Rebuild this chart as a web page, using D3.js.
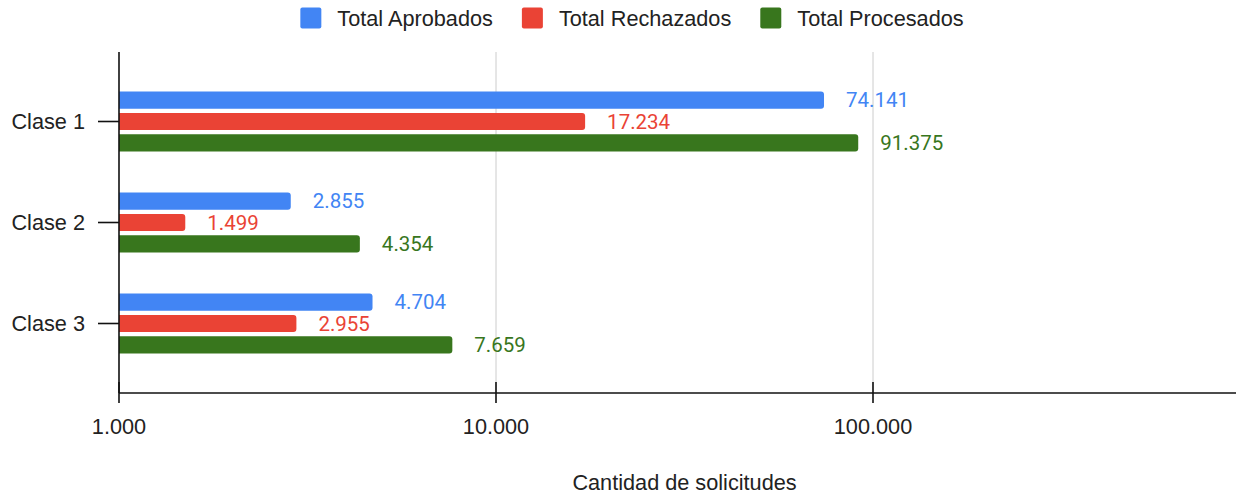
<!DOCTYPE html>
<html>
<head>
<meta charset="utf-8">
<script src="https://cdn.jsdelivr.net/npm/d3@7"></script>
<style>
  html, body { margin: 0; padding: 0; background: #fff; }
  svg { display: block; }
  text { font-family: "Liberation Sans", Arial, sans-serif; }
</style>
</head>
<body>
<svg id="chart" width="1236" height="498"></svg>
<script>
// Solicitudes por clase (escala logarítmica)
const categories = ["Clase 1", "Clase 2", "Clase 3"];
const seriesNames = ["Total Aprobados", "Total Rechazados", "Total Procesados"];
const aprobados  = [74141, 2855, 4704];
const rechazados = [17234, 1499, 2955];
const procesados = [91375, 4354, 7659];
const xTicks = [1000, 10000, 100000];
const axisTitle = "Cantidad de solicitudes";

const seriesValues = [aprobados, rechazados, procesados];
const colors = ["#4285F4", "#EA4335", "#38761D"];

const svg = d3.select("#chart");
const W = 1236, H = 498;
const textSize = "21.7px";

const plotLeft = 119, plotRight = 1250, plotTop = 52, plotBottom = 393;

const x = d3.scaleLog().domain([1000, 1000000]).range([plotLeft, plotRight]);
const y = d3.scaleBand().domain(categories).range([71, 374]).padding(0);
const ySub = d3.scaleBand().domain(seriesNames).range([-30, 30]).paddingInner(0.2);

const fmt = v => d3.format(",")(v).replace(/,/g, ".");

// Vertical grid lines
svg.append("g").selectAll("line")
  .data(xTicks.filter(t => t !== 1000))
  .join("line")
  .attr("x1", d => x(d)).attr("x2", d => x(d))
  .attr("y1", plotTop).attr("y2", plotBottom)
  .attr("stroke", "#cccccc").attr("stroke-width", 1);

// Bars with rounded right ends
function barPath(x0, x1, y0, h, r) {
  r = Math.min(r, (x1 - x0), h / 2);
  return `M${x0},${y0}H${x1 - r}Q${x1},${y0} ${x1},${y0 + r}V${y0 + h - r}Q${x1},${y0 + h} ${x1 - r},${y0 + h}H${x0}Z`;
}

const rows = [];
categories.forEach((c, i) => {
  seriesNames.forEach((s, j) => {
    rows.push({ cat: c, series: s, value: seriesValues[j][i], color: colors[j] });
  });
});

svg.append("g").selectAll("path")
  .data(rows)
  .join("path")
  .attr("d", d => barPath(x(1000), x(d.value), y(d.cat) + y.bandwidth() / 2 + ySub(d.series), ySub.bandwidth(), 3))
  .attr("fill", d => d.color);

// Value labels
svg.append("g").selectAll("text")
  .data(rows)
  .join("text")
  .attr("x", d => x(d.value) + 22)
  .attr("y", d => y(d.cat) + y.bandwidth() / 2 + ySub(d.series) + ySub.bandwidth() / 2)
  .attr("dy", "0.35em")
  .attr("fill", d => d.color)
  .style("font-family", "Roboto, sans-serif")
  .style("font-size", "20.5px")
  .text(d => fmt(d.value));

// X axis
const xAxis = svg.append("g").attr("transform", `translate(0,${plotBottom})`);
xAxis.append("line")
  .attr("x1", plotLeft).attr("x2", W).attr("y1", 0).attr("y2", 0)
  .attr("stroke", "#111").attr("stroke-width", 1.6);
xAxis.selectAll("line.tick")
  .data(xTicks)
  .join("line")
  .attr("class", "tick")
  .attr("x1", d => x(d)).attr("x2", d => x(d))
  .attr("y1", -11).attr("y2", 10)
  .attr("stroke", "#111").attr("stroke-width", 1.6);
xAxis.selectAll("text")
  .data(xTicks)
  .join("text")
  .attr("x", d => x(d))
  .attr("y", 41)
  .attr("text-anchor", "middle")
  .attr("fill", "#222")
  .style("font-size", textSize)
  .text(d => fmt(d));

// Y axis
const yAxis = svg.append("g");
yAxis.append("line")
  .attr("x1", plotLeft).attr("x2", plotLeft).attr("y1", plotTop).attr("y2", plotBottom)
  .attr("stroke", "#111").attr("stroke-width", 1.6);
yAxis.selectAll("line.tick")
  .data(categories)
  .join("line")
  .attr("class", "tick")
  .attr("x1", plotLeft - 21).attr("x2", plotLeft)
  .attr("y1", d => y(d) + y.bandwidth() / 2).attr("y2", d => y(d) + y.bandwidth() / 2)
  .attr("stroke", "#111").attr("stroke-width", 1.6);
yAxis.selectAll("text")
  .data(categories)
  .join("text")
  .attr("x", plotLeft - 34)
  .attr("y", d => y(d) + y.bandwidth() / 2)
  .attr("dy", "0.36em")
  .attr("text-anchor", "end")
  .attr("fill", "#222")
  .style("font-size", textSize)
  .text(d => d);

// Axis title
svg.append("text")
  .attr("x", (plotLeft + plotRight) / 2)
  .attr("y", 490)
  .attr("text-anchor", "middle")
  .attr("fill", "#222")
  .style("font-size", textSize)
  .text(axisTitle);

// Legend
const legend = svg.append("g");
const items = legend.selectAll("g")
  .data(seriesNames)
  .join("g");
items.append("rect")
  .attr("width", 21).attr("height", 21)
  .attr("y", 7.5).attr("rx", 2)
  .attr("fill", (d, i) => colors[i]);
items.append("text")
  .attr("x", 37)
  .attr("y", 18)
  .attr("dy", "0.36em")
  .attr("fill", "#222")
  .style("font-size", textSize)
  .text(d => d);
let cursor = 0;
items.each(function () {
  const g = d3.select(this);
  g.attr("transform", `translate(${cursor},0)`);
  const tw = g.select("text").node().getComputedTextLength();
  cursor += 37 + tw + 29;
});
const legendWidth = cursor - 29;
legend.attr("transform", `translate(${632 - legendWidth / 2},0)`);
</script>
</body>
</html>
